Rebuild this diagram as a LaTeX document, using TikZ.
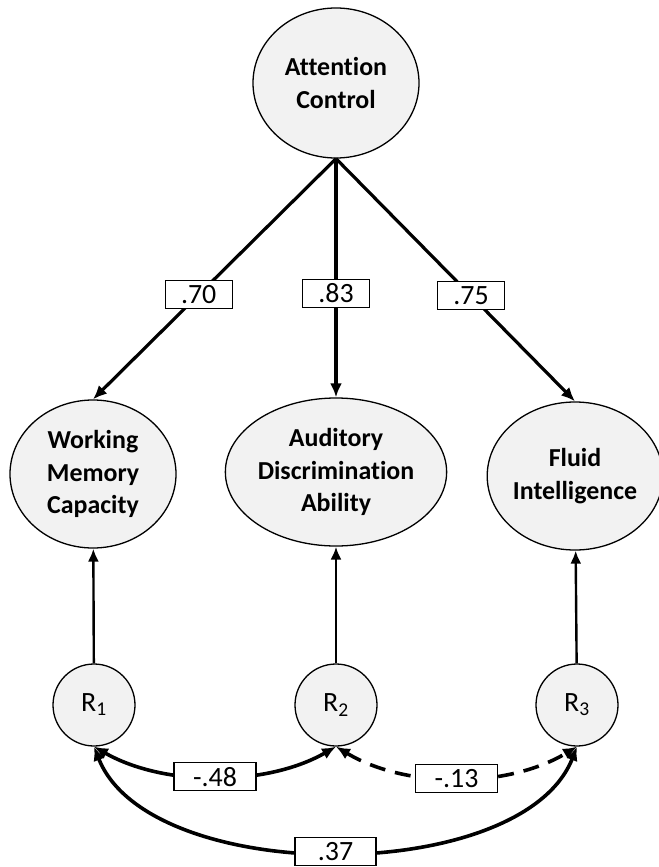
\documentclass[tikz,border=0pt]{standalone}
\usepackage{fontspec}
\setmainfont{Carlito}[Ligatures=NoCommon]
\usetikzlibrary{shapes.geometric, arrows.meta}
\definecolor{latentfill}{HTML}{F2F2F2}

\begin{document}
\begin{tikzpicture}[x=1bp, y=-1bp,
  latent/.style={ellipse, draw, line width=1.3bp, fill=latentfill, inner sep=0pt,
                 align=center, font=\fontsize{26}{33}\selectfont\bfseries},
  resid/.style={circle, draw, line width=1.3bp, fill=latentfill, minimum size=82bp,
                inner sep=0pt, font=\fontsize{28}{30}\selectfont},
  coef/.style={rectangle, draw, solid, line width=1.3bp, fill=white, inner sep=0pt,
               minimum width=67bp, minimum height=28bp, font=\fontsize{28}{30}\selectfont},
  loadarrow/.style={line width=3.2bp, -{Latex[length=14bp,width=12bp]}},
  residarrow/.style={line width=2.4bp, -{Latex[length=13bp,width=11bp]}},
  covarrow/.style={line width=3.6bp, {Latex[length=14bp,width=12bp]}-{Latex[length=14bp,width=12bp]}}]
\useasboundingbox (0,0) rectangle (659,867);

% factors
\node[latent, minimum width=166bp, minimum height=150bp] (attn) at (336,83) {Attention\\Control};
\node[latent, minimum width=166bp, minimum height=148bp] (wmc) at (93,474) {Working\\Memory\\Capacity};
\node[latent, minimum width=166bp, minimum height=148bp] (ada) at (336,472) {Auditory\\Discrimination\\Ability};
\node[latent, minimum width=160bp, minimum height=148bp] (gf) at (575,476) {Fluid\\Intelligence};

% residuals
\node[resid] (r1) at (94,705) {R\textsubscript{1}};
\node[resid] (r2) at (336,705) {R\textsubscript{2}};
\node[resid] (r3) at (577,705) {R\textsubscript{3}};

% loadings
\draw[loadarrow] (attn.south) -- node[coef, pos=0.565] {.70} (wmc.north);
\draw[loadarrow] (attn.south) -- node[coef, pos=0.565] {.83} (ada.north);
\draw[loadarrow] (attn.south) -- node[coef, pos=0.565] {.75} (gf.north);

\draw[residarrow] (r1) -- (wmc);
\draw[residarrow] (r2) -- (ada);
\draw[residarrow] (r3) -- (gf);

% residual correlations
\draw[covarrow] (r1.south) .. controls +(70,40) and +(-70,40) ..
  node[coef, minimum width=82bp] {-.48} (r2.south);
\draw[covarrow, dash pattern=on 16bp off 10bp] (r2.south) .. controls +(70,42) and +(-70,42) ..
  node[coef, minimum width=82bp] {-.13} (r3.south);
\draw[covarrow] (r1.south) .. controls +(55,140) and +(-55,140) ..
  node[coef, minimum width=81bp] {.37} (r3.south);
\end{tikzpicture}
\end{document}
